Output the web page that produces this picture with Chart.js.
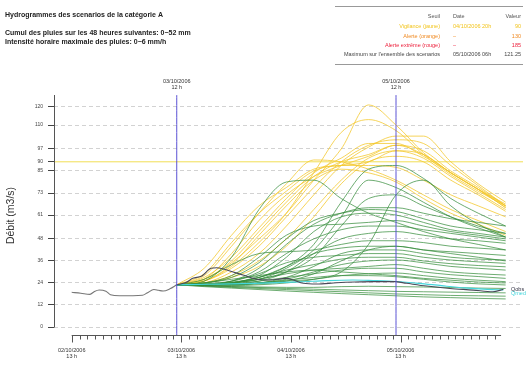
<!DOCTYPE html>
<html>
<head>
<meta charset="utf-8">
<script src="https://cdn.jsdelivr.net/npm/chart.js@4.4.1/dist/chart.umd.min.js"></script>
<style>
  html, body { margin: 0; padding: 0; background: #fff; }
  #wrap { width: 531px; height: 368px; }
</style>
</head>
<body>
<div id="wrap"><canvas id="hydroChart" width="531" height="368"></canvas></div>
<script>
// ---------------------------
// Data
// (hours counted from 02/10/2006 13 h)
// ---------------------------
const yTicks = [0, 12, 24, 36, 48, 61, 73, 85, 90, 97, 110, 120];
const xMajorLabels = [['02/10/2006', '13 h'], ['03/10/2006', '13 h'], ['04/10/2006', '13 h'], ['05/10/2006', '13 h']];
const vLineHours = [23, 71];
const vLineLabels = [['03/10/2006', '12 h'], ['05/10/2006', '12 h']];
const vigilance = 90;

const obsHoursBefore = [0, 2, 4, 5, 6, 7.5, 8.5, 10.5, 15.5, 16.5, 18, 19, 20, 21.5, 23];
const obsBefore = [18.9, 18.4, 17.8, 19.4, 20.2, 19.5, 17.6, 17.0, 17.3, 18.5, 20.4, 20.0, 19.6, 20.8, 23.0];

const obsHoursAfter = [23, 25, 26.5, 28.5, 30.5, 31.8, 34.3, 37.5, 40.5, 43.4, 47, 48.5, 50.7, 53.6, 58, 62, 66, 70.7, 73.3, 77.7, 82.8, 87.9, 92.2, 94.5];
const obsAfter = [23.0, 24.2, 26.5, 27.8, 32.0, 32.3, 30.8, 28.3, 26.0, 25.6, 26.5, 25.6, 23.8, 23.4, 24.1, 24.5, 24.7, 24.7, 23.8, 22.3, 21.0, 20.1, 19.2, 20.5];

const cyanHours = [23, 30, 40, 50, 56, 61.5, 66, 71, 76, 81, 86, 91, 94.5];
const cyanValues = [23.0, 23.3, 23.8, 24.6, 25.3, 25.6, 25.3, 24.8, 23.8, 22.5, 21.3, 20.5, 20.2];

// scenario sample hours
const scenHours = [23, 29, 35, 41, 47, 53, 59, 65, 71, 77, 83, 89, 95];

// scenarios above the vigilance threshold (yellow)
const yellowScenarios = [
  [23, 26, 35, 48, 62, 80, 97, 121, 110, 95, 84, 75, 67],
  [23, 25, 33, 46, 62, 84, 106, 113, 107, 94, 83, 74, 66],
  [23, 24, 30, 40, 55, 72, 88, 98, 104, 104, 90, 78, 68],
  [23, 25, 32, 44, 60, 76, 90, 99, 102, 100, 88, 77, 66],
  [23, 27, 38, 54, 70, 84, 92, 100, 100, 93, 84, 75, 65],
  [23, 28, 44, 62, 78, 91, 90, 86, 80, 72, 64, 58, 52],
  [23, 32, 50, 66, 76, 86, 88, 90, 96, 92, 82, 73, 64],
  [23, 26, 36, 52, 68, 82, 90, 94, 99, 96, 85, 76, 66],
  [23, 24, 28, 36, 48, 64, 80, 92, 96, 94, 84, 75, 65],
  [23, 29, 46, 62, 74, 85, 88, 88, 87, 80, 72, 66, 60],
  [23, 25, 34, 50, 66, 80, 86, 84, 79, 70, 62, 56, 50],
  [23, 24, 27, 33, 44, 60, 78, 90, 93, 90, 80, 72, 63],
  [23, 26, 40, 58, 72, 82, 88, 93, 99, 94, 84, 75, 66]
];

// scenarios below the threshold (green)
const greenScenarios = [
  [23, 23.5, 24.5, 27, 33, 45, 68, 86, 88, 81, 70, 62, 55],
  [23, 22.8, 22.5, 23, 24, 26, 30, 45, 72, 80, 66, 56, 49],
  [23, 25, 38, 64, 79, 80, 70, 62, 57, 52, 48, 45, 42],
  [23, 23, 24, 26, 32, 42, 60, 80, 76, 68, 60, 54, 49],
  [23, 23, 24, 26, 30, 38, 55, 70, 72, 66, 60, 55, 51],
  [23, 23, 25, 32, 45, 56, 62, 65, 65, 62, 59, 57, 55],
  [23, 24, 27, 35, 48, 58, 62, 64, 63, 59, 55, 53, 51],
  [23, 23, 24, 28, 38, 52, 60, 62, 61, 57, 53, 51, 49],
  [23, 23, 23.5, 25, 30, 40, 48, 51, 52, 50, 48, 47, 45.6],
  [23, 26, 34, 40, 41, 42, 45, 47, 47, 46, 44, 43, 42],
  [23, 23, 24, 27, 33, 40, 43, 44, 44, 42, 41, 40, 39],
  [23, 23, 23, 24, 27, 33, 40, 42, 42, 40, 38, 37, 36.5],
  [23, 23.5, 25, 29, 35, 38, 39, 40, 40, 38, 36.5, 35.5, 34.7],
  [23, 23, 24, 27, 31, 34, 37, 38, 38, 36, 34.5, 33.5, 32.8],
  [23, 23, 23, 24, 26, 30, 34, 36, 36.5, 35, 33, 32, 31],
  [23, 23, 24, 26, 29, 31, 32, 33, 34, 32, 30, 29, 28.3],
  [23, 23, 23.5, 25, 27, 29, 31, 32, 32, 30, 28.5, 27.5, 26.5],
  [23, 23, 23, 24, 25, 26, 28, 29, 29.4, 28, 26.5, 25.5, 24.7],
  [23, 23, 23.5, 24, 25.5, 27, 28, 28, 27.4, 26, 24.5, 23.5, 22.9],
  [23, 22.5, 22, 21.8, 21.6, 21.6, 22, 22.2, 22, 21.8, 21.5, 21.2, 21],
  [23, 22.5, 22, 21.5, 21, 20.6, 20.2, 19.8, 19.4, 19.2, 19, 18.8, 18.6],
  [23, 22.3, 21.6, 21, 20.4, 19.8, 19.2, 18.6, 18, 17.6, 17.2, 17, 16.8],
  [23, 22, 21.2, 20.4, 19.6, 18.9, 18.2, 17.6, 17, 16.4, 16, 15.6, 15.3],
  [23, 24, 26, 28, 30, 31, 30, 29, 28, 26.5, 25.5, 24.5, 24],
  [23, 23, 23, 23.5, 25, 29, 36, 42, 44, 42, 40, 38, 36],
  [23, 24, 28, 38, 50, 55, 56, 57, 58, 55, 52, 50, 48],
  [23, 23, 25, 30, 40, 48, 53, 55, 55, 53, 51, 49, 47]
];

const legendRows = [
  ['Seuil', 'Date', 'Valeur'],
  ['Vigilance (jaune)', '04/10/2006 20h', '90'],
  ['Alerte (orange)', '–', '130'],
  ['Alerte extrême (rouge)', '–', '185'],
  ['Maximum sur l\'ensemble des scenarios', '05/10/2006 06h', '121.25']
];

// ---------------------------
// Chart configuration
// ---------------------------
const FONT = '"Liberation Sans", Arial, sans-serif';
const X_MIN = -3.87, X_MAX = 98.8;
const Y_MIN = -4.9, Y_MAX = 126.4;
const MINOR_STEP = 24 / 14;
const X_AXIS_END = 94;

function pts(xs, ys) {
  return xs.map((x, i) => ({ x: x, y: ys[i] }));
}

const datasets = [];

vLineHours.forEach(h => {
  datasets.push({
    data: [{ x: h, y: Y_MIN }, { x: h, y: Y_MAX }],
    borderColor: '#5b52d4', borderWidth: 1, tension: 0
  });
});

datasets.push({ data: pts(obsHoursAfter, obsAfter), borderColor: '#4a4a58', borderWidth: 1.1 });
datasets.push({ data: pts(cyanHours, cyanValues), borderColor: '#45d6dc', borderWidth: 1.2 });
datasets.push({ data: pts(obsHoursBefore, obsBefore), borderColor: '#777777', borderWidth: 1.1 });

greenScenarios.forEach(s => {
  datasets.push({ data: pts(scenHours, s), borderColor: 'rgba(52,140,58,0.72)', borderWidth: 1 });
});
yellowScenarios.forEach(s => {
  datasets.push({ data: pts(scenHours, s), borderColor: 'rgba(244,200,45,0.78)', borderWidth: 1 });
});

datasets.push({
  data: [{ x: X_MIN, y: vigilance }, { x: X_MAX, y: vigilance }],
  borderColor: '#f1de55', borderWidth: 1, tension: 0
});

// texts, axis lines and x tick marks
const decorPlugin = {
  id: 'decor',
  afterDraw(chart) {
    const { ctx, chartArea: a, scales: { x, y } } = chart;
    ctx.save();

    // y axis line (R style, stops at 0)
    ctx.strokeStyle = '#555';
    ctx.lineWidth = 1;
    ctx.beginPath();
    ctx.moveTo(a.left + 0.5, a.top);
    ctx.lineTo(a.left + 0.5, Math.round(y.getPixelForValue(0)) + 0.5);
    ctx.stroke();

    // x axis line + tick marks
    const yb = Math.round(a.bottom) - 0.5;
    ctx.beginPath();
    ctx.moveTo(x.getPixelForValue(0), yb);
    ctx.lineTo(x.getPixelForValue(X_AXIS_END), yb);
    x.ticks.forEach((t, i) => {
      const px = Math.round(x.getPixelForValue(t.value)) + 0.5;
      ctx.moveTo(px, yb);
      ctx.lineTo(px, yb + (i % 14 === 0 ? 7 : 4));
    });
    ctx.stroke();

    // labels above the vertical lines
    ctx.fillStyle = '#333';
    ctx.font = '5.5px ' + FONT;
    ctx.textAlign = 'center';
    ctx.textBaseline = 'middle';
    vLineHours.forEach((h, i) => {
      const px = x.getPixelForValue(h);
      ctx.fillText(vLineLabels[i][0], px, 81);
      ctx.fillText(vLineLabels[i][1], px, 87);
    });

    // end labels
    ctx.textAlign = 'left';
    ctx.fillStyle = '#334';
    ctx.fillText('Qobs', 511, 289);
    ctx.fillStyle = '#45d6dc';
    ctx.fillText('Qmed', 511, 293);

    // header
    ctx.fillStyle = '#222';
    ctx.font = 'bold 7px ' + FONT;
    ctx.fillText('Hydrogrammes des scenarios de la catégorie A', 5, 15);
    ctx.fillText('Cumul des pluies sur les 48 heures suivantes: 0\u221252 mm', 5, 33);
    ctx.fillText('Intensité horaire maximale des pluies: 0\u22126 mm/h', 5, 42);

    // legend table
    ctx.strokeStyle = '#999';
    ctx.beginPath();
    ctx.moveTo(335, 6.5); ctx.lineTo(523, 6.5);
    ctx.moveTo(335, 64.5); ctx.lineTo(523, 64.5);
    ctx.stroke();

    const rowY = [16, 26, 36, 45, 54];
    const rowColor = ['#555', '#f2c41c', '#f08a22', '#ec1c38', '#444'];
    ctx.font = '5.5px ' + FONT;
    legendRows.forEach((r, i) => {
      ctx.fillStyle = rowColor[i];
      ctx.textAlign = 'right';
      ctx.fillText(r[0], 440, rowY[i]);
      ctx.textAlign = 'left';
      ctx.fillText(r[1], 453, rowY[i]);
      ctx.textAlign = 'right';
      ctx.fillText(r[2], 521, rowY[i]);
    });

    ctx.restore();
  }
};

new Chart(document.getElementById('hydroChart'), {
  type: 'line',
  data: { datasets: datasets },
  options: {
    responsive: false,
    devicePixelRatio: 1,
    animation: false,
    layout: { padding: { top: 95, right: 8, left: 0, bottom: 0 } },
    elements: {
      point: { radius: 0 },
      line: { tension: 0.4, cubicInterpolationMode: 'monotone', fill: false }
    },
    plugins: {
      legend: { display: false },
      tooltip: { enabled: false }
    },
    scales: {
      x: {
        type: 'linear',
        min: X_MIN,
        max: X_MAX,
        afterBuildTicks: function(scale) {
          const t = [];
          for (let i = 0; i * MINOR_STEP <= X_AXIS_END + 0.01; i++) t.push({ value: i * MINOR_STEP });
          scale.ticks = t;
        },
        afterFit: function(scale) { scale.height = 32; },
        grid: { display: true, drawOnChartArea: false, drawTicks: false },
        border: { display: false },
        ticks: {
          autoSkip: false,
          maxRotation: 0,
          padding: 11,
          color: '#333',
          font: { family: FONT, size: 5.5 },
          callback: function(value, index) {
            return index % 14 === 0 ? xMajorLabels[index / 14] : '';
          }
        }
      },
      y: {
        type: 'linear',
        min: Y_MIN,
        max: Y_MAX,
        afterBuildTicks: function(scale) {
          scale.ticks = yTicks.map(v => ({ value: v }));
        },
        afterFit: function(scale) { scale.width = 54; },
        grid: {
          color: ctx => (ctx.tick && ctx.tick.value === vigilance) ? 'rgba(0,0,0,0)' : '#d2d2d2',
          tickColor: '#444',
          tickLength: 6,
          tickBorderDash: [],
          lineWidth: 1
        },
        border: { display: false, dash: [4, 3] },
        ticks: {
          padding: 5,
          color: '#444',
          font: { family: FONT, size: 5 },
          callback: v => String(v)
        },
        title: {
          display: true,
          text: 'Débit (m3/s)',
          color: '#333',
          font: { family: FONT, size: 10.5 },
          padding: { top: 5, bottom: 0 }
        }
      }
    }
  },
  plugins: [decorPlugin]
});
</script>
</body>
</html>
